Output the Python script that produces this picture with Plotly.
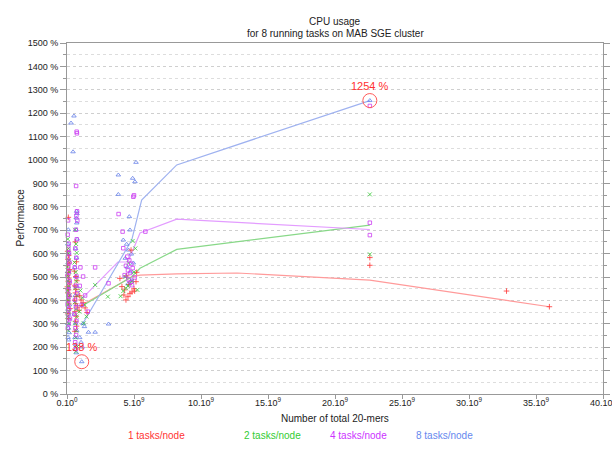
import plotly.graph_objects as go

# ---------------- data (x in units of 10^9 20-mers, y in %) ----------------
red_x = [0.10, 0.05, 0.12, 0.08, 0.15, 0.04, 0.20, 0.10, 0.06, 0.14, 0.09, 0.18, 0.03, 0.11, 0.07, 0.16, 0.05, 0.13, 0.22, 0.08, 0.10,
         0.62, 0.70, 0.55, 0.66, 0.74, 0.58, 0.68, 0.63, 0.72, 0.57, 0.65, 0.77, 0.60, 0.69, 0.64, 0.71, 0.59,
         0.95, 1.05, 1.20, 1.10, 1.35, 0.90, 1.50,
         3.95, 4.10, 4.25, 4.40, 4.55, 4.30, 4.70, 4.85, 4.62, 5.00, 4.45, 5.15, 4.78, 5.05, 5.20,
         22.6, 22.6, 32.8, 36.0]
red_y = [755, 610, 592, 575, 560, 548, 532, 520, 508, 496, 482, 470, 458, 445, 432, 418, 400, 385, 365, 345, 322,
         650, 565, 525, 502, 484, 462, 447, 432, 416, 401, 386, 371, 352, 332, 311, 290, 268,
         420, 402, 390, 378, 368, 358, 348,
         494, 459, 423, 402, 416, 445, 430, 436, 468, 450, 505, 480, 615, 440, 520,
         583, 550, 440, 373]

green_x = [0.06, 0.12, 0.09, 0.15, 0.04, 0.18, 0.10, 0.07, 0.13, 0.05, 0.20, 0.11, 0.08, 0.16, 0.03, 0.14, 0.09,
           0.60, 0.68, 0.73, 0.56, 0.65, 0.70, 0.62, 0.75, 0.58, 0.67, 0.72, 0.61, 0.69, 0.64, 0.78, 0.66,
           1.00, 1.15, 1.30, 0.92, 1.45, 1.25, 2.10, 3.05,
           4.00, 4.20, 4.40, 4.55, 4.70, 4.85, 4.35, 5.00, 4.60, 5.10, 4.90, 5.25,
           22.6, 22.6]
green_y = [662, 622, 601, 572, 543, 521, 502, 483, 462, 441, 422, 401, 382, 352, 331, 301, 272,
           702, 641, 603, 562, 521, 482, 452, 421, 392, 362, 331, 302, 271, 242, 203, 182,
           442, 411, 381, 352, 331, 302, 466, 416,
           418, 440, 452, 462, 472, 483, 500, 521, 560, 622, 654, 445,
           853, 597]

mag_x = [0.08, 0.05, 0.12, 0.10, 0.15, 0.06, 0.18, 0.09, 0.13, 0.04, 0.20, 0.11, 0.07, 0.16, 0.10, 0.05, 0.14, 0.08, 0.22, 0.12, 0.06,
         0.72, 0.74, 0.68, 0.75, 0.70, 0.77, 0.66, 0.73, 0.62, 0.69, 0.58, 0.71, 0.64, 0.76, 0.60, 0.67, 0.55, 0.70, 0.63, 0.68, 0.61, 0.65,
         1.00, 1.20, 0.95, 1.35, 1.10, 1.55, 2.10, 3.10,
         3.85, 4.15, 4.95, 5.00, 4.20, 5.85, 4.50, 4.65, 4.80, 4.40, 4.90, 4.55, 4.70, 4.30, 5.05, 4.60, 4.75, 4.85,
         22.6, 22.6, 22.6]
mag_y = [742, 681, 642, 621, 602, 583, 562, 543, 522, 503, 482, 462, 443, 421, 402, 383, 362, 341, 322, 301, 282,
         1121, 1114, 889, 781, 762, 741, 702, 661, 622, 582, 541, 502, 462, 431, 402, 371, 342, 312, 281, 252, 221, 192,
         541, 502, 462, 421, 381, 352, 541, 473,
         769, 694, 843, 849, 623, 694, 587, 571, 556, 548, 538, 528, 517, 508, 498, 489, 478, 465,
         1231, 732, 679]

blue_x = [0.10, 0.06, 0.13, 0.08, 0.04, 0.15, 0.09, 0.12, 0.05, 0.18, 0.07, 0.11, 0.14, 0.06, 0.10, 0.16, 0.08, 0.12,
          0.52, 0.30, 0.45, 0.72, 0.75, 0.70, 0.73, 0.68, 0.76, 0.64, 0.71, 0.59, 0.67, 0.74, 0.62, 0.69, 0.57, 0.65, 0.72, 0.60, 0.66, 0.63, 0.70,
          1.20, 1.30, 1.60, 0.95, 1.05, 1.15, 2.10, 3.10, 1.10,
          3.83, 3.83, 5.15, 4.90, 5.07, 4.65, 4.20, 4.70, 4.45, 4.60, 4.80, 4.35, 4.95, 4.50, 4.75, 4.40, 4.85, 4.55,
          22.6]
blue_y = [702, 641, 602, 561, 522, 482, 452, 421, 402, 381, 362, 341, 322, 301, 281, 262, 242, 231,
          1188, 1158, 1035, 781, 771, 752, 731, 702, 662, 621, 582, 541, 502, 461, 421, 381, 341, 302, 271, 241, 211, 191, 176,
          301, 288, 264, 241, 221, 201, 264, 299, 138,
          936, 853, 990, 922, 907, 758, 658, 701, 640, 615, 598, 580, 560, 542, 522, 503, 485, 470,
          1254]

# mean curves
red_line_x = [1.1, 4.83, 5.45, 8.19, 12.7, 22.6, 36.0]
red_line_y = [380, 500, 508, 513, 517, 487, 373]
green_line_x = [1.0, 4.83, 5.45, 8.19, 22.6]
green_line_y = [372, 501, 537, 618, 722]
mag_line_x = [1.15, 3.8, 4.55, 5.45, 8.19, 22.6]
mag_line_y = [410, 564, 564, 688, 747, 703]
blue_line_x = [1.12, 4.83, 5.57, 8.19, 22.6]
blue_line_y = [295, 658, 829, 979, 1254]

x_ticks = [0, 5, 10, 15, 20, 25, 30, 35, 40]
x_ticktext = ["0.10<sup>0</sup>"] + [f"{v}.10<sup>9</sup>" for v in x_ticks[1:]]
y_ticks = list(range(0, 1501, 100))
y_ticktext = [f"{v} %" for v in y_ticks]

series_names = ["1 tasks/node", "2 tasks/node", "4 tasks/node", "8 tasks/node"]

# ---------------- styling ----------------
FONT = "Liberation Sans, Arial, sans-serif"
C_RED, C_GREEN, C_MAG, C_BLUE = "#ff3535", "#3ccc3c", "#cc3cf2", "#6680e8"
L_RED, L_GREEN, L_MAG, L_BLUE = "#ff9a9a", "#88d888", "#e39cff", "#9fb2f0"

fig = go.Figure()

for lx, ly, col in [(red_line_x, red_line_y, L_RED), (green_line_x, green_line_y, L_GREEN),
                    (mag_line_x, mag_line_y, L_MAG), (blue_line_x, blue_line_y, L_BLUE)]:
    fig.add_trace(go.Scatter(x=lx, y=ly, mode="lines", line=dict(color=col, width=1.2),
                             showlegend=False, hoverinfo="skip"))

marker_specs = [
    (blue_x, blue_y, C_BLUE, "triangle-up-open", 4),
    (red_x, red_y, C_RED, "cross-thin-open", 4),
    (green_x, green_y, C_GREEN, "x-thin-open", 4),
    (mag_x, mag_y, C_MAG, "square-open", 3.5),
]
for sx, sy, col, sym, sz in marker_specs:
    fig.add_trace(go.Scatter(x=sx, y=sy, mode="markers", cliponaxis=False,
                             marker=dict(symbol=sym, size=sz, color=col, line=dict(color=col, width=0.8)),
                             showlegend=False))

# highlight max / min of 8 tasks/node
i_max = blue_y.index(max(blue_y))
i_min = blue_y.index(min(blue_y))
hx = [blue_x[i_max], blue_x[i_min]]
hy = [blue_y[i_max], blue_y[i_min]]
fig.add_trace(go.Scatter(x=hx, y=hy, mode="markers", cliponaxis=False,
                         marker=dict(symbol="circle-open", size=14, color="#ff5a5a", line=dict(width=1)),
                         showlegend=False))

# plot area in pixels
L, R, T, B = 67, 603, 43, 394
W, H = 612, 450


def px(xp):
    return (xp - L) / (R - L)


def py(yp):
    return (B - yp) / (B - T)


annotations = []
for xv, yv in zip(hx, hy):
    annotations.append(dict(x=xv, y=yv, xref="x", yref="y", text=f"{yv} %", showarrow=False,
                            yshift=15, font=dict(family=FONT, size=11, color="#ff3030")))

annotations.append(dict(x=px(335), y=py(14), xref="paper", yref="paper", text="CPU usage",
                        showarrow=False, font=dict(family=FONT, size=10, color="#222")))
annotations.append(dict(x=px(335), y=py(26.5), xref="paper", yref="paper",
                        text="for 8 running tasks on MAB SGE cluster",
                        showarrow=False, font=dict(family=FONT, size=10, color="#222")))
annotations.append(dict(x=px(335), y=py(426), xref="paper", yref="paper", text="Number of total 20-mers",
                        showarrow=False, font=dict(family=FONT, size=10, color="#222")))
annotations.append(dict(x=px(12), y=py(218), xref="paper", yref="paper", text="Performance", textangle=-90,
                        showarrow=False, font=dict(family=FONT, size=10, color="#222")))
for name, col, cx in zip(series_names, ["#ff3333", "#33cc33", "#cc33ff", "#6688ee"], [126, 242, 358, 475]):
    annotations.append(dict(x=px(cx), y=py(443), xref="paper", yref="paper", text=name,
                            showarrow=False, font=dict(family=FONT, size=10, color=col)))

AX = "#999999"
GRID = "#cfcfcf"
fig.update_layout(
    width=W, height=H,
    margin=dict(l=L, r=W - R, t=T, b=H - B, autoexpand=False),
    paper_bgcolor="white", plot_bgcolor="white",
    font=dict(family=FONT, size=9, color="#222"),
    annotations=annotations,
    xaxis=dict(range=[0, 40], tickvals=x_ticks, ticktext=x_ticktext, showgrid=False, zeroline=False,
               automargin=False, ticklabelstandoff=-4, ticklabeloverflow="allow",
               showline=True, linecolor=AX, linewidth=1, mirror=True, ticks="outside", ticklen=4,
               tickcolor=AX, tickfont=dict(family=FONT, size=9, color="#222")),
    yaxis=dict(range=[0, 1500], tickvals=y_ticks, ticktext=y_ticktext, showgrid=True, gridcolor=GRID,
               automargin=False,
               griddash="dot", gridwidth=1, zeroline=False, showline=True, linecolor=AX, linewidth=1,
               mirror="ticks", ticks="outside", ticklen=6, tickcolor=AX,
               tickfont=dict(family=FONT, size=9, color="#222"),
               minor=dict(dtick=50, showgrid=True, gridcolor="#dddddd", griddash="dot",
                          ticks="outside", ticklen=3, tickcolor=AX)),
)

fig.write_html("out.html", config={"displayModeBar": False},
               post_script="document.body.style.margin='0px';")
